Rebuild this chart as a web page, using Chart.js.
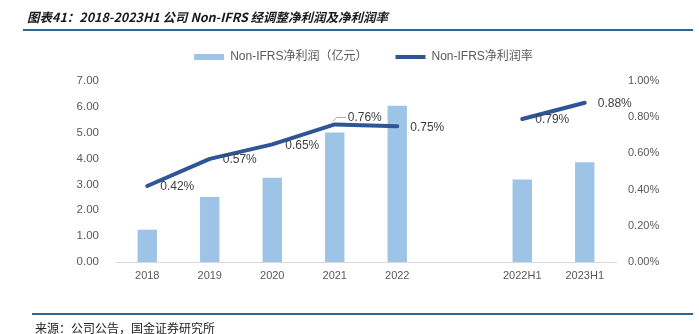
<!DOCTYPE html>
<html>
<head>
<meta charset="utf-8">
<script src="https://cdn.jsdelivr.net/npm/chart.js@4/dist/chart.umd.min.js"></script>
<style>
    body { margin: 0; background: #fff; }
    #wrap { position: relative; width: 699px; height: 334px; overflow: hidden; }
    #chart { position: absolute; left: 0; top: 0; }
    .title { position: absolute; left: 27px; top: 7px; font: italic bold 12.5px "Noto Sans CJK SC", sans-serif; color: #1a1a1a; white-space: nowrap; }
    .rule { position: absolute; background: #2b6592; }
    .source { position: absolute; left: 35px; top: 319px; font: 12px "Noto Sans CJK SC", sans-serif; color: #222; white-space: nowrap; }
</style>
</head>
<body>
<div id="wrap">
    <canvas id="chart" width="699" height="334"></canvas>
    <div class="title">图表41：2018-2023H1 公司 Non-IFRS 经调整净利润及净利润率</div>
    <div class="rule" style="left:23px; top:29px; width:670px; height:2px;"></div>
    <div class="rule" style="left:32px; top:313px; width:661px; height:2px;"></div>
    <div class="source">来源：公司公告，国金证券研究所</div>
</div>
<script>
// Basic data
var categories = ['2018', '2019', '2020', '2021', '2022', '', '2022H1', '2023H1'];
var profit = [1.25, 2.51, 3.26, 5.01, 6.04, null, 3.19, 3.86];   // 亿元
var margin = [0.42, 0.57, 0.65, 0.76, 0.75, null, 0.79, 0.88];   // %

var barColor = '#9dc3e6';
var lineColor = '#2f5597';
var textColor = '#595959';
var fontFamily = '"Liberation Sans", "Noto Sans CJK SC", sans-serif';

/**
 * Value labels next to the margin line
 */
var pointLabels = {
    id: 'pointLabels',
    afterInit: function(chart) {
        // extra room between legend and plot
        var fit = chart.legend.fit;
        chart.legend.fit = function() {
            fit.call(this);
            this.height += 8;
        };
    },
    afterDatasetsDraw: function(chart) {
        var ctx = chart.ctx;
        var meta = chart.getDatasetMeta(1);
        ctx.save();
        ctx.font = '12px ' + fontFamily;
        ctx.fillStyle = '#404040';
        ctx.textBaseline = 'middle';
        meta.data.forEach(function(pt, i) {
            if (margin[i] == null) return;
            var x = pt.x + 13;
            var y = pt.y + 1;
            if (i === 3) {
                // label pushed up, with a small leader line
                y = pt.y - 7;
                ctx.strokeStyle = '#a6a6a6';
                ctx.lineWidth = 1;
                ctx.beginPath();
                ctx.moveTo(pt.x - 2, pt.y - 3);
                ctx.lineTo(pt.x + 2, pt.y - 7);
                ctx.lineTo(pt.x + 11, pt.y - 7);
                ctx.stroke();
            }
            ctx.fillText(margin[i].toFixed(2) + '%', x, y);
        });
        ctx.restore();
    }
};

var chart = new Chart(document.getElementById('chart').getContext('2d'), {
    type: 'bar',
    data: {
        labels: categories,
        datasets: [{
            type: 'bar',
            label: 'Non-IFRS净利润（亿元）',
            data: profit,
            backgroundColor: barColor,
            borderWidth: 0,
            categoryPercentage: 1,
            barPercentage: 0.31,
            pointStyle: 'rect',
            yAxisID: 'y',
            order: 1
        }, {
            type: 'line',
            label: 'Non-IFRS净利润率',
            data: margin,
            borderColor: lineColor,
            backgroundColor: lineColor,
            borderWidth: 4,
            borderCapStyle: 'round',
            borderJoinStyle: 'round',
            pointRadius: 0,
            pointHoverRadius: 0,
            pointStyle: 'line',
            spanGaps: false,
            tension: 0,
            yAxisID: 'y1',
            order: 0
        }]
    },
    options: {
        responsive: false,
        devicePixelRatio: 1,
        animation: false,
        layout: { padding: { left: 28, right: 0, top: 23, bottom: 0 } },
        plugins: {
            tooltip: { enabled: false },
            legend: {
                position: 'top',
                labels: {
                    usePointStyle: true,
                    pointStyleWidth: 30,
                    boxHeight: 6,
                    padding: 28,
                    color: textColor,
                    font: { size: 12, family: fontFamily },
                    sort: function(a, b) { return a.datasetIndex - b.datasetIndex; }
                }
            }
        },
        scales: {
            x: {
                grid: { display: false, drawTicks: false },
                border: { display: true, color: '#d9d9d9', width: 1 },
                ticks: { color: textColor, font: { size: 11, family: fontFamily }, padding: 7, maxRotation: 0, autoSkip: false },
                afterFit: function(scale) { scale.height = 72; }
            },
            y: {
                position: 'left',
                min: 0,
                max: 7,
                grid: { display: false, drawTicks: false },
                border: { display: false },
                ticks: {
                    stepSize: 1,
                    color: textColor,
                    font: { size: 11.5, family: fontFamily },
                    padding: 17,
                    callback: function(v) { return v.toFixed(2); }
                },
                afterFit: function(scale) { scale.width = 88; }
            },
            y1: {
                position: 'right',
                min: 0,
                max: 1,
                grid: { display: false, drawTicks: false },
                border: { display: false },
                ticks: {
                    stepSize: 0.2,
                    color: textColor,
                    font: { size: 11, family: fontFamily },
                    padding: 12,
                    callback: function(v) { return v.toFixed(2) + '%'; }
                },
                afterFit: function(scale) { scale.width = 83; }
            }
        }
    },
    plugins: [pointLabels]
});
</script>
</body>
</html>
